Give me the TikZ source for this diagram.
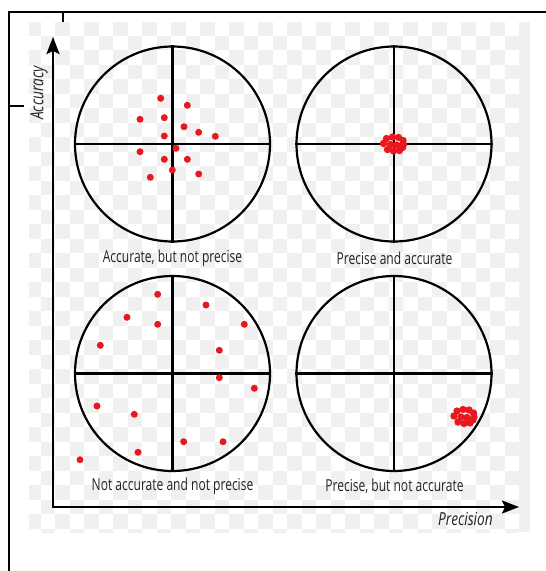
\documentclass[tikz,border=0pt]{standalone}
\usepackage{fontspec}
\setmainfont{Open Sans}
\newfontfamily\labfont[FakeStretch=0.73]{Open Sans}
\newfontfamily\axfont[FakeStretch=0.76]{Open Sans}
\usetikzlibrary{arrows.meta}
\definecolor{dotred}{RGB}{232,24,32}
\definecolor{chk}{RGB}{240,240,240}
\definecolor{stripc}{RGB}{238,240,244}
\definecolor{txt}{RGB}{35,35,35}
\begin{document}
\begin{tikzpicture}[x=1pt,y=-1pt,
  target/.style={circle,draw,line width=2.2pt,inner sep=0pt,minimum size=195pt},
  cross/.style={line width=2.2pt},
  reddot/.style={fill=dotred},
  lab/.style={font=\labfont\fontsize{16.5}{16.5}\selectfont,text=txt,inner sep=0pt},
  axislab/.style={font=\axfont\fontsize{18}{18}\selectfont\itshape,text=txt,inner sep=0pt},
  axisline/.style={line width=2.4pt,{Stealth[length=17pt,width=13pt,inset=3pt]}-{Stealth[length=17pt,width=13pt,inset=3pt]}},
  frameline/.style={line width=1.1pt}]
\useasboundingbox (0,0) rectangle (546,571);
% checkerboard background
\begin{scope}
\clip (29,22) rectangle (519,532);
\foreach \r in {0,...,35}{
  \foreach \c in {0,...,35}{
    \pgfmathtruncatemacro\chkodd{mod(\r+\c,2)}
    \ifnum\chkodd=0
      \fill[chk] ({26.2+14.5*\c},{21+14.5*\r}) rectangle ++(14.5,14.5);
    \fi
  }
}
\end{scope}
\fill[stripc] (519,22) rectangle (530,532);
% frame lines
\draw[frameline] (9,571) -- (9,12) -- (546,12);
\draw[frameline] (63,12) -- (63,22);
\draw[frameline] (9,106) -- (24,106);
% targets
\node[target] (t1) at (172.5,144) {};
\node[target] (t2) at (394,144) {};
\node[target] (t3) at (172.5,373.5) {};
\node[target] (t4) at (394,373.5) {};
\foreach \t in {t1,t2,t3,t4}{
  \draw[cross] (\t.north) -- (\t.south);
  \draw[cross] (\t.west) -- (\t.east);
}
% dots: accurate, not precise
\foreach \p in {(160.7,98.3),(187.3,105.3),(140,119.3),(164.3,117.7),(184,126.7),(198.7,132.3),(215.3,136.3),(164.3,136),(176,148.3),(140,151.7),(164.3,159.3),(187.3,159.3),(172.3,170),(198.7,174),(150.3,177.3)}
  \fill[reddot] \p circle (3.5);
% dots: not accurate, not precise
\foreach \p in {(157.7,294.3),(206,305),(127,317.3),(157.7,324.3),(244.3,324.3),(100.3,345.3),(219.3,350.3),(219.3,377.7),(254.3,388.3),(97,406),(134.3,414.3),(183.7,441.7),(223,441.7),(138,452.3),(80,459.7)}
  \fill[reddot] \p circle (3.5);
% clusters
\foreach \cx/\cy in {393.5/144.5, 464/417}{
  \foreach \dx/\dy in {-7/-6,-1/-7.5,5/-7,9.5/-4,-10/-1,10/0,-6/5,0/6.5,6/6,9/3,-3/0,3/0.5}
    \fill[reddot] ({\cx+\dx},{\cy+\dy}) circle (3.7);
}
% axes
\coordinate (ytip) at (53,37);
\coordinate (orig) at (53,507);
\coordinate (xtip) at (519,507);
\draw[axisline] (ytip) -- (orig) -- (xtip);
\node[axislab,rotate=90] (acc) at (39,93) {Accuracy};
\node[axislab] (prec) at (465.5,519) {Precision};
% labels
\node[lab] (l1) at (172.5,258) {Accurate, but not precise};
\node[lab] (l2) at (394.5,258) {Precise and accurate};
\node[lab] (l3) at (172.5,486) {Not accurate and not precise};
\node[lab] (l4) at (394.5,486) {Precise, but not accurate};
\end{tikzpicture}
\end{document}
